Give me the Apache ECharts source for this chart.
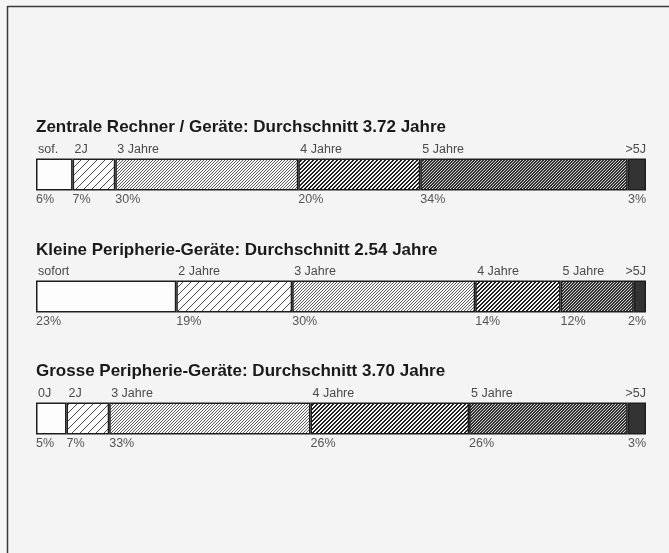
<!DOCTYPE html>
<html>
<head>
<meta charset="utf-8">
<script src="https://cdn.jsdelivr.net/npm/echarts@6/dist/echarts.min.js"></script>
<style>
html,body{margin:0;padding:0;background:#f4f4f4;}
#chart{width:669px;height:553px;}
</style>
</head>
<body>
<div id="chart"></div>
<script>
// ---- data ----
const groups = ['Zentrale Rechner / Geräte', 'Kleine Peripherie-Geräte', 'Grosse Peripherie-Geräte'];
const titles = [
  'Zentrale Rechner / Geräte: Durchschnitt 3.72 Jahre',
  'Kleine Peripherie-Geräte: Durchschnitt 2.54 Jahre',
  'Grosse Peripherie-Geräte: Durchschnitt 3.70 Jahre'
];
const catsZentrale = ['sof.', '2J', '3 Jahre', '4 Jahre', '5 Jahre', '>5J'];
const catsKlein = ['sofort', '2 Jahre', '3 Jahre', '4 Jahre', '5 Jahre', '>5J'];
const catsGross = ['0J', '2J', '3 Jahre', '4 Jahre', '5 Jahre', '>5J'];
const valsZentrale = [6, 7, 30, 20, 34, 3];
const valsKlein = [23, 19, 30, 14, 12, 2];
const valsGross = [5, 7, 33, 26, 26, 3];

const cats = [catsZentrale, catsKlein, catsGross];
const vals = [valsZentrale, valsKlein, valsGross];

// ---- styles ----
const FONT = '"Liberation Sans", Arial, Helvetica, sans-serif';
function hatch(s, t, fg, bg) {
  const c = document.createElement('canvas');
  c.width = s; c.height = s;
  const ctx = c.getContext('2d');
  ctx.fillStyle = bg; ctx.fillRect(0, 0, s, s);
  ctx.fillStyle = fg;
  for (let x = 0; x < s; x++) for (let y = 0; y < s; y++) {
    if ((x + y) % s < t) ctx.fillRect(x, y, 1, 1);
  }
  return { image: c, repeat: 'repeat' };
}
const fills = [
  '#fdfdfd',
  hatch(8, 1, '#4a4a4a', '#fdfdfd'),
  hatch(3, 1, '#5e5e5e', '#f8f8f8'),
  hatch(4, 2, '#222222', '#f4f4f4'),
  hatch(3, 2, '#333333', '#d0d0d0'),
  '#333333'
];

const series = [];
for (let k = 0; k < 6; k++) {
  const last = k === 5;
  series.push({
    type: 'bar', stack: 'a', barWidth: 32, barGap: '-100%',
    data: vals.map(v => v[k]),
    itemStyle: { color: fills[k], borderColor: '#1e1e1e', borderWidth: 1.5 },
    label: {
      show: true,
      position: last ? ['100%', -2] : [2, -2],
      align: last ? 'right' : 'left',
      verticalAlign: 'bottom',
      fontFamily: FONT, fontSize: 12.5, color: '#4a4a4a',
      formatter: p => cats[p.dataIndex][k]
    },
    silent: true, animation: false
  });
}
for (let k = 0; k < 6; k++) {
  const last = k === 5;
  series.push({
    type: 'bar', stack: 'b', barWidth: 32, barGap: '-100%',
    data: vals.map(v => v[k]),
    itemStyle: { color: 'rgba(0,0,0,0)' },
    label: {
      show: true,
      position: last ? ['100%', 35] : [0, 35],
      align: last ? 'right' : 'left',
      verticalAlign: 'top',
      fontFamily: FONT, fontSize: 12.5, color: '#555555',
      formatter: p => p.value + '%'
    },
    silent: true, animation: false
  });
}

const titleTops = [119, 242, 363];
const chart = echarts.init(document.getElementById('chart'), null, { renderer: 'canvas' });
chart.setOption({
  backgroundColor: '#f4f4f4',
  animation: false,
  title: titles.map((t, i) => ({
    text: t, left: 36, top: titleTops[i], padding: 0,
    textStyle: { fontFamily: FONT, fontSize: 17, fontWeight: 'bold', color: '#1a1a1a' }
  })),
  grid: { left: 36, right: 23, top: 113.5, height: 366 },
  xAxis: { type: 'value', min: 0, max: 100, show: false },
  yAxis: { type: 'category', data: groups, inverse: true, show: false },
  graphic: [
    { type: 'line', shape: { x1: 7, y1: 6.5, x2: 669, y2: 6.5 }, style: { stroke: '#3a3a3a', lineWidth: 1.5 } },
    { type: 'line', shape: { x1: 7.5, y1: 6, x2: 7.5, y2: 553 }, style: { stroke: '#3a3a3a', lineWidth: 1.5 } }
  ],
  series: series
});
</script>
</body>
</html>
